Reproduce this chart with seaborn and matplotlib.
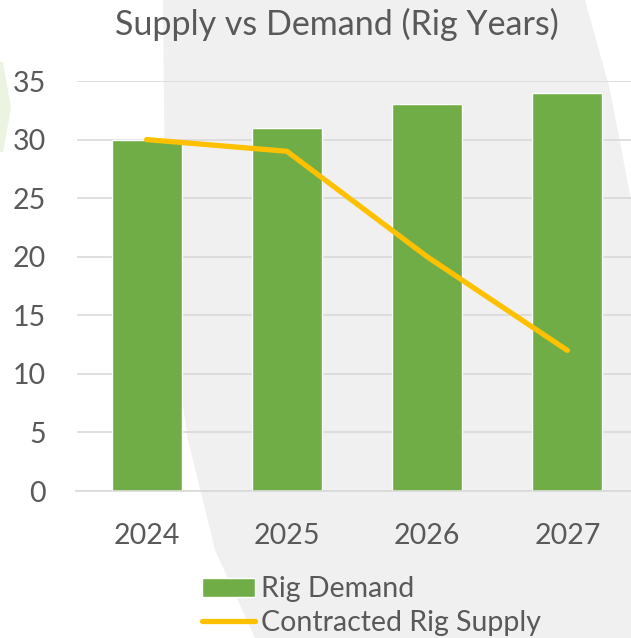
import matplotlib
matplotlib.use("Agg")
import matplotlib.pyplot as plt
import numpy as np
import seaborn as sns
from matplotlib.patches import Polygon

# chart data
years = ["2024", "2025", "2026", "2027"]
rig_demand = [30, 31, 33, 34]
contracted_supply = [30, 29, 20, 12]
y_ticks = [0, 5, 10, 15, 20, 25, 30, 35]

title = "Supply vs Demand (Rig Years)"
demand_label = "Rig Demand"
supply_label = "Contracted Rig Supply"

green = "#70AD47"
gold = "#FFC000"
text_grey = "#595959"
grid_grey = "#D9D9D9"

sns.set_style("white")
plt.rcParams["font.family"] = ["Lato", "DejaVu Sans"]

W, H = 631, 638
fig = plt.figure(figsize=(W / 100, H / 100), dpi=100)
fig.patch.set_facecolor("white")

# decorative background swoosh (slide background), on its own axes
bg = fig.add_axes([0, 0, 1, 1], zorder=0)
bg.set_xlim(0, W)
bg.set_ylim(H, 0)
bg.axis("off")
bg.add_patch(Polygon([(163, 0), (165, 200), (172, 330), (188, 440), (215, 550),
                      (255, 638), (631, 638), (631, 200), (610, 90), (585, 0)],
                     closed=True, facecolor="#F0F0F0", edgecolor="none"))
bg.add_patch(Polygon([(0, 62), (3, 62), (11, 108), (3, 152), (0, 152)],
                     closed=True, facecolor="#EAF4E0", edgecolor="none"))

ax = fig.add_axes([76.5 / W, (H - 491) / H, 561 / W, 410 / H], zorder=1)
ax.set_facecolor("none")

sns.barplot(x=years, y=rig_demand, color=green, width=0.5, saturation=1,
            ax=ax, label=demand_label, zorder=2)
sns.lineplot(x=np.arange(len(years)), y=contracted_supply, color=gold,
             linewidth=3.8, ax=ax, label=supply_label, zorder=3,
             solid_capstyle="round", solid_joinstyle="round")

ax.set_xlim(-0.5, len(years) - 0.5)
ax.set_ylim(0, 35)
ax.set_yticks(y_ticks)
ax.set_xticks(range(len(years)))
ax.set_xticklabels(years)
ax.set_xlabel("")
ax.set_ylabel("")
ax.grid(axis="y", color=grid_grey, linewidth=1.2, zorder=0)
ax.set_axisbelow(True)
for s in ["top", "right", "left"]:
    ax.spines[s].set_visible(False)
ax.spines["bottom"].set_color(grid_grey)
ax.spines["bottom"].set_linewidth(1.2)
ax.tick_params(axis="both", length=0, labelsize=20.5, colors=text_grey)
ax.tick_params(axis="y", pad=22)
ax.tick_params(axis="x", pad=23)

fig.text(337 / W, 1 - 35 / H, title, ha="center", va="baseline",
         fontsize=24.5, color=text_grey)

handles, labels = ax.get_legend_handles_labels()
order = [labels.index(demand_label), labels.index(supply_label)]
leg = ax.legend([handles[i] for i in order], [labels[i] for i in order],
                loc="center left", bbox_to_anchor=(202 / W, 1 - 606 / H),
                bbox_transform=fig.transFigure, frameon=False, fontsize=20.5,
                handlelength=1.87, handleheight=0.65, handletextpad=0.2,
                labelspacing=0.25, borderpad=0, borderaxespad=0)
for t in leg.get_texts():
    t.set_color(text_grey)

fig.savefig("out.png", dpi=100)
